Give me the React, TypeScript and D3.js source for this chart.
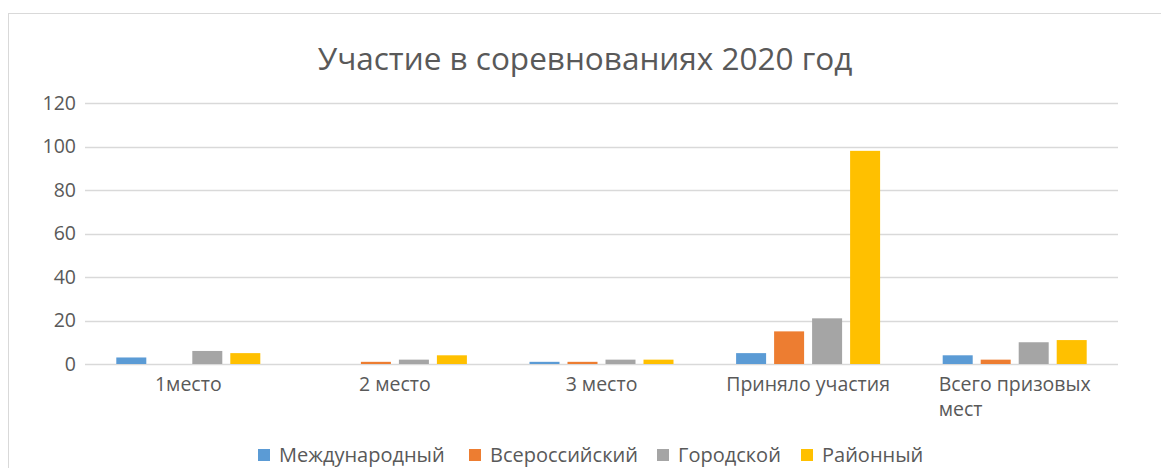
import React, { useEffect, useRef } from 'react'
import * as d3 from 'd3'

const categories = ['1место', '2 место', '3 место', 'Приняло участия', 'Всего призовых мест']
const series = ['Международный', 'Всероссийский', 'Городской', 'Районный']
const colors = ['#5B9BD5', '#ED7D31', '#A5A5A5', '#FFC000']
// values per series, in category order
const international = [3, 0, 1, 5, 4]
const allRussian = [0, 1, 1, 15, 2]
const city = [6, 2, 2, 21, 10]
const district = [5, 4, 2, 98, 11]
const yTicks = [0, 20, 40, 60, 80, 100, 120]

const FONT = '"Open Sans", sans-serif'

export default function App() {
  const ref = useRef<SVGSVGElement>(null)

  useEffect(() => {
    const svg = d3.select(ref.current)
    svg.selectAll('*').remove()

    const width = 1161
    const height = 468
    const values = [international, allRussian, city, district]

    // chart frame
    svg
      .append('rect')
      .attr('x', 8.5)
      .attr('y', 13.5)
      .attr('width', 1200)
      .attr('height', 500)
      .attr('fill', '#fff')
      .attr('stroke', '#D9D9D9')

    svg
      .append('text')
      .attr('x', 585)
      .attr('y', 70)
      .attr('text-anchor', 'middle')
      .attr('font-family', FONT)
      .attr('font-size', 31.5)
      .attr('fill', '#595959')
      .text('Участие в соревнованиях 2020 год')

    const y = d3.scaleLinear().domain([0, 120]).range([364, 103])
    const x0 = d3.scaleBand().domain(categories).range([85, 1118])
    const groupW = 144
    const x1 = d3
      .scaleBand()
      .domain(series)
      .range([0, groupW])
      .paddingInner(8 / 38)

    // gridlines + y labels
    yTicks.forEach(t => {
      svg
        .append('line')
        .attr('x1', 85)
        .attr('x2', 1118)
        .attr('y1', Math.round(y(t)) + 0.5)
        .attr('y2', Math.round(y(t)) + 0.5)
        .attr('stroke', '#D9D9D9')
        .attr('stroke-width', 1.3)
      svg
        .append('text')
        .attr('x', 76)
        .attr('y', y(t))
        .attr('dy', '0.35em')
        .attr('text-anchor', 'end')
        .attr('font-family', FONT)
        .attr('font-size', 19.5)
        .attr('fill', '#595959')
        .text(t)
    })

    // bars
    categories.forEach((c, ci) => {
      const gx = x0(c) + (x0.bandwidth() - groupW) / 2
      series.forEach((s, si) => {
        const v = values[si][ci]
        svg
          .append('rect')
          .attr('x', gx + x1(s))
          .attr('y', y(v))
          .attr('width', x1.bandwidth())
          .attr('height', y(0) - y(v))
          .attr('fill', colors[si])
      })
    })

    // category labels (wrapped label: lines start at the same x, like Excel)
    const catLines: Record<string, string[]> = {
      'Всего призовых мест': ['Всего призовых', 'мест'],
    }
    categories.forEach(c => {
      const lines = catLines[c] || [c]
      const cx = x0(c) + x0.bandwidth() / 2
      const first = svg
        .append('text')
        .attr('x', cx)
        .attr('y', 391)
        .attr('text-anchor', 'middle')
        .attr('font-family', FONT)
        .attr('font-size', 19.5)
        .attr('fill', '#595959')
        .text(lines[0])
      const w = (first.node() as SVGTextElement).getComputedTextLength()
      lines.slice(1).forEach((l, i) => {
        svg
          .append('text')
          .attr('x', cx - w / 2)
          .attr('y', 391 + (i + 1) * 25)
          .attr('font-family', FONT)
          .attr('font-size', 19.5)
          .attr('fill', '#595959')
          .text(l)
      })
    })

    // legend
    const legendX = [258, 469, 657, 801]
    series.forEach((s, i) => {
      svg
        .append('rect')
        .attr('x', legendX[i])
        .attr('y', 449)
        .attr('width', 12)
        .attr('height', 12)
        .attr('fill', colors[i])
      svg
        .append('text')
        .attr('x', legendX[i] + 21)
        .attr('y', 462)
        .attr('font-family', FONT)
        .attr('font-size', 20)
        .attr('fill', '#595959')
        .text(s)
    })

    svg.attr('viewBox', `0 0 ${width} ${height}`)
  }, [])

  return (
    <svg
      ref={ref}
      width={1161}
      height={468}
      style={{ position: 'absolute', left: 0, top: 0, background: '#fff' }}
    />
  )
}
